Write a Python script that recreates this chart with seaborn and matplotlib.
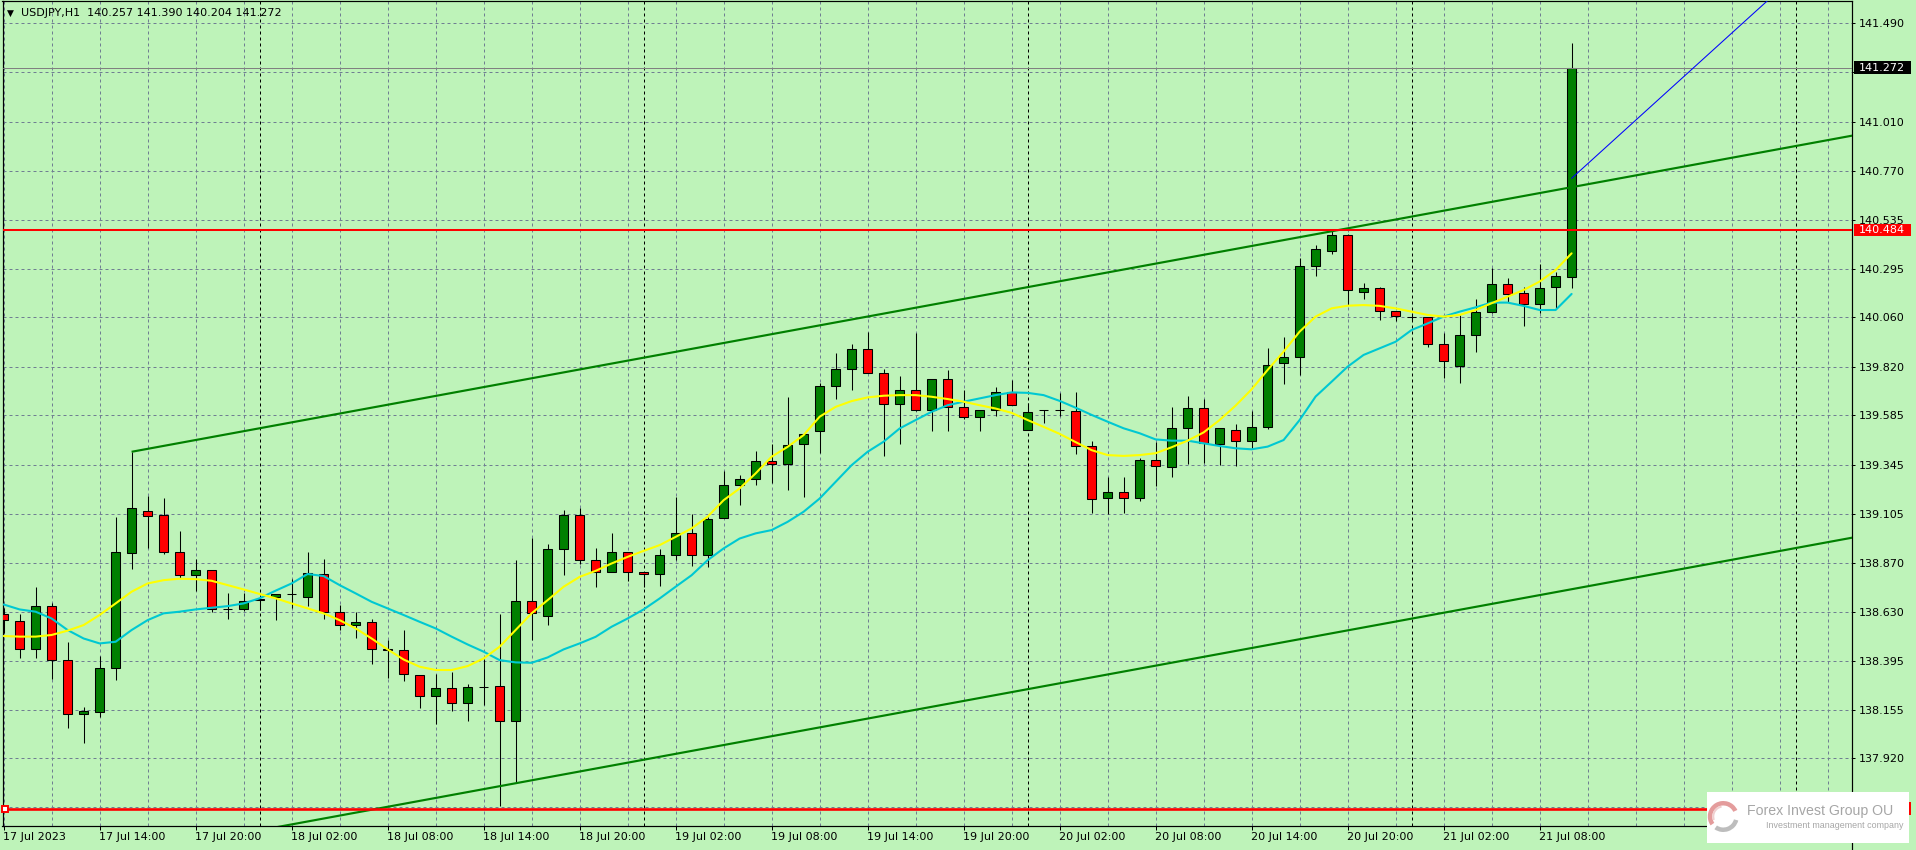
import numpy as np
import pandas as pd
import matplotlib
matplotlib.use("Agg")
import matplotlib.pyplot as plt
import matplotlib.transforms as mtransforms
from matplotlib.patches import Rectangle, Wedge
from matplotlib.lines import Line2D
from matplotlib import font_manager
import seaborn as sns

# ---------------------------------------------------------------- data
symbol = "USDJPY,H1"
header_values = ["140.257", "141.390", "140.204", "141.272"]

opens = [138.619, 138.585, 138.452, 138.658, 138.396, 138.137, 138.147, 138.357, 138.915, 139.120,
         139.099, 138.920, 138.808, 138.832, 138.643, 138.643, 138.687, 138.701, 138.717, 138.701,
         138.816, 138.629, 138.566, 138.580, 138.452, 138.444, 138.323, 138.221, 138.260, 138.187,
         138.268, 138.269, 138.100, 138.682, 138.609, 138.934, 139.099, 138.885, 138.827, 138.924,
         138.827, 138.816, 138.905, 139.016, 138.905, 139.089, 139.245, 139.274, 139.364, 139.351,
         139.444, 139.507, 139.725, 139.812, 139.909, 139.788, 139.638, 139.710, 139.609, 139.759,
         139.623, 139.575, 139.613, 139.696, 139.516, 139.609, 139.609, 139.604, 139.434, 139.182,
         139.211, 139.182, 139.367, 139.333, 139.522, 139.619, 139.444, 139.512, 139.459, 139.527,
         139.837, 139.866, 140.308, 140.381, 140.459, 140.182, 140.201, 140.090, 140.062, 140.061,
         139.930, 139.823, 139.973, 140.085, 140.221, 140.177, 140.124, 140.206, 140.257]
highs = [138.648, 138.619, 138.752, 138.676, 138.483, 138.169, 138.415, 139.091, 139.408, 139.193,
         139.183, 139.023, 138.887, 138.835, 138.725, 138.725, 138.705, 138.716, 138.789, 138.920,
         138.887, 138.663, 138.630, 138.595, 138.494, 138.541, 138.323, 138.328, 138.337, 138.281,
         138.404, 138.620, 138.881, 138.991, 138.959, 139.125, 139.133, 138.940, 139.012, 138.924,
         138.827, 138.934, 139.188, 139.105, 139.090, 139.317, 139.295, 139.414, 139.445, 139.673,
         139.492, 139.740, 139.887, 139.930, 139.987, 139.808, 139.778, 139.984, 139.759, 139.803,
         139.710, 139.613, 139.720, 139.754, 139.647, 139.612, 139.691, 139.696, 139.458, 139.284,
         139.284, 139.378, 139.456, 139.627, 139.677, 139.666, 139.522, 139.541, 139.608, 139.910,
         139.964, 140.347, 140.410, 140.478, 140.465, 140.226, 140.206, 140.092, 140.075, 140.063,
         139.983, 140.070, 140.148, 140.298, 140.250, 140.206, 140.318, 140.279, 141.390]
lows = [138.527, 138.409, 138.409, 138.307, 138.069, 137.996, 138.121, 138.302, 138.840, 138.939,
        138.913, 138.795, 138.730, 138.632, 138.598, 138.633, 138.640, 138.591, 138.648, 138.659,
        138.596, 138.541, 138.506, 138.379, 138.312, 138.294, 138.166, 138.085, 138.151, 138.103,
        138.177, 137.690, 137.807, 138.494, 138.569, 138.809, 138.864, 138.753, 138.827, 138.780,
        138.753, 138.758, 138.882, 138.855, 138.847, 139.089, 139.151, 139.245, 139.256, 139.224,
        139.190, 139.403, 139.665, 139.706, 139.788, 139.389, 139.447, 139.605, 139.511, 139.511,
        139.565, 139.511, 139.584, 139.633, 139.516, 139.550, 139.584, 139.398, 139.109, 139.104,
        139.112, 139.171, 139.244, 139.287, 139.347, 139.355, 139.346, 139.337, 139.420, 139.517,
        139.735, 139.779, 140.260, 140.366, 140.119, 140.148, 140.046, 140.041, 140.046, 139.918,
        139.765, 139.743, 139.891, 140.080, 140.133, 140.017, 140.080, 140.104, 140.204]
closes = [138.590, 138.452, 138.658, 138.396, 138.137, 138.148, 138.357, 138.920, 139.133, 139.098,
          138.920, 138.808, 138.832, 138.643, 138.643, 138.682, 138.696, 138.716, 138.717, 138.818,
          138.629, 138.566, 138.580, 138.452, 138.444, 138.328, 138.221, 138.260, 138.187, 138.265,
          138.268, 138.100, 138.682, 138.624, 138.934, 139.099, 138.885, 138.827, 138.924, 138.827,
          138.816, 138.905, 139.016, 138.905, 139.084, 139.245, 139.274, 139.364, 139.351, 139.439,
          139.492, 139.725, 139.812, 139.909, 139.788, 139.638, 139.710, 139.609, 139.759, 139.623,
          139.575, 139.613, 139.696, 139.633, 139.599, 139.609, 139.609, 139.434, 139.181, 139.211,
          139.182, 139.367, 139.341, 139.522, 139.619, 139.449, 139.522, 139.459, 139.527, 139.828,
          139.866, 140.308, 140.391, 140.459, 140.192, 140.201, 140.090, 140.065, 140.062, 139.930,
          139.847, 139.973, 140.085, 140.221, 140.172, 140.124, 140.201, 140.260, 141.272]

ma_yellow = [138.514, 138.511, 138.511, 138.519, 138.540, 138.567, 138.616, 138.672, 138.729, 138.769,
             138.785, 138.792, 138.790, 138.782, 138.761, 138.740, 138.718, 138.697, 138.672, 138.648,
             138.624, 138.591, 138.551, 138.502, 138.449, 138.400, 138.365, 138.349, 138.349, 138.368,
             138.405, 138.462, 138.543, 138.624, 138.688, 138.753, 138.801, 138.830, 138.866, 138.898,
             138.927, 138.955, 138.995, 139.036, 139.093, 139.173, 139.230, 139.303, 139.384, 139.432,
             139.489, 139.578, 139.626, 139.654, 139.672, 139.680, 139.683, 139.683, 139.675, 139.664,
             139.651, 139.634, 139.618, 139.597, 139.562, 139.529, 139.495, 139.455, 139.416, 139.392,
             139.388, 139.392, 139.401, 139.430, 139.462, 139.502, 139.562, 139.632, 139.711, 139.805,
             139.894, 139.991, 140.064, 140.104, 140.117, 140.120, 140.116, 140.104, 140.088, 140.072,
             140.064, 140.072, 140.096, 140.129, 140.161, 140.193, 140.234, 140.290, 140.371]
ma_cyan = [138.667, 138.643, 138.632, 138.599, 138.543, 138.502, 138.478, 138.486, 138.543, 138.591,
           138.624, 138.632, 138.643, 138.651, 138.659, 138.672, 138.697, 138.734, 138.769, 138.815,
           138.805, 138.761, 138.721, 138.680, 138.648, 138.616, 138.583, 138.551, 138.511, 138.473,
           138.438, 138.397, 138.386, 138.384, 138.410, 138.449, 138.478, 138.510, 138.559, 138.599,
           138.643, 138.696, 138.753, 138.809, 138.882, 138.939, 138.987, 139.012, 139.028, 139.068,
           139.117, 139.181, 139.262, 139.343, 139.408, 139.457, 139.521, 139.562, 139.602, 139.634,
           139.651, 139.667, 139.683, 139.696, 139.694, 139.683, 139.655, 139.622, 139.587, 139.554,
           139.522, 139.498, 139.468, 139.462, 139.462, 139.449, 139.436, 139.425, 139.420, 139.433,
           139.465, 139.562, 139.676, 139.748, 139.821, 139.878, 139.910, 139.942, 139.999, 140.031,
           140.064, 140.088, 140.109, 140.132, 140.132, 140.116, 140.096, 140.096, 140.174]

price_ticks = [141.490, 141.250, 141.010, 140.770, 140.535, 140.295, 140.060, 139.820,
               139.585, 139.345, 139.105, 138.870, 138.630, 138.395, 138.155, 137.920]
hidden_tick_labels = [141.250]          # covered by the bid-price box in the reference
extra_grid_prices = [137.685]
time_labels = ["17 Jul 2023", "17 Jul 14:00", "17 Jul 20:00", "18 Jul 02:00", "18 Jul 08:00",
               "18 Jul 14:00", "18 Jul 20:00", "19 Jul 02:00", "19 Jul 08:00", "19 Jul 14:00",
               "19 Jul 20:00", "20 Jul 02:00", "20 Jul 08:00", "20 Jul 14:00", "20 Jul 20:00",
               "21 Jul 02:00", "21 Jul 08:00"]
time_label_bars = [1, 7, 13, 19, 25, 31, 37, 43, 49, 55, 61, 67, 73, 79, 85, 91, 97]
day_separator_bars = [17, 41, 65, 89, 113]
grid_bar_step = 3

channel_anchor_bars = [9, 84]
channel_anchor_prices = [139.408, 140.478]
channel_offset = 1.951
ray_anchor_bars = [99, 111]
ray_anchor_prices = [140.735, 141.580]
bid_price = 141.272
resistance_price = 140.484
support_price = 137.676
support_anchor_bar = 1.1

logo_title = "Forex Invest Group OU"
logo_subtitle = "Investment management company"

# ---------------------------------------------------------------- style
W, H, DPI = 1916, 850, 100
BG = "#BEF3B9"
GRID = "#707E92"
BULL = "#008000"
BEAR = "#FF0000"
YELLOW = "#FFFF00"
CYAN = "#00C8D2"
PX = 0.72  # one pixel in points

sns.set_style("ticks", {"axes.facecolor": BG, "figure.facecolor": BG,
                        "axes.edgecolor": "black", "xtick.color": "black",
                        "ytick.color": "black", "text.color": "black"})
plt.rcParams["font.family"] = ["DejaVu Sans"]

names = {f.name for f in font_manager.fontManager.ttflist}
if "Liberation Sans Narrow" in names:
    logo_font, logo_size = "Liberation Sans Narrow", 12.6
else:
    logo_font, logo_size = "Liberation Sans", 10.2

fig = plt.figure(figsize=(W / DPI, H / DPI), dpi=DPI, facecolor=BG)
ax_left, ax_right, ax_top, ax_bottom = 2.5, 1852.3, 0.5, 826.0
ax = fig.add_axes([ax_left / W, (H - ax_bottom) / H,
                   (ax_right - ax_left) / W, (ax_bottom - ax_top) / H])
ax.set_facecolor(BG)

n_bars = np.arange(1, len(opens) + 1)
bar_px = 16.0
x0 = 1 - (3.6 - ax_left) / bar_px
x1 = 1 + (ax_right - 3.6) / bar_px
ymin, ymax = 137.592, 141.598
ax.set_xlim(x0, x1)
ax.set_ylim(ymin, ymax)
ppx = (ymax - ymin) / (ax_bottom - ax_top)

# grid
for p in price_ticks + extra_grid_prices:
    ax.axhline(p, color=GRID, lw=PX, ls=(0, (3, 3)), zorder=1)
for b in range(1, int(x1) + 1, grid_bar_step):
    ax.axvline(b, color=GRID, lw=PX, ls=(0, (3, 3)), zorder=1)
for b in day_separator_bars:
    ax.axvline(b, color="black", lw=PX, ls=(0, (3, 3)), zorder=1.2)

# candles
o = np.array(opens); h = np.array(highs); l = np.array(lows); c = np.array(closes)
up = c >= o
ax.vlines(n_bars, l, h, color="black", lw=PX * 1.05, zorder=3)
ax.bar(n_bars, np.abs(c - o), bottom=np.minimum(o, c), width=0.58,
       color=np.where(up, BULL, BEAR), edgecolor="black", linewidth=PX * 1.05, zorder=4)

# moving averages
df_ma = pd.DataFrame({"bar": n_bars, "yellow": ma_yellow, "cyan": ma_cyan})
sns.lineplot(data=df_ma, x="bar", y="cyan", ax=ax, color=CYAN, linewidth=1.5, zorder=5)
sns.lineplot(data=df_ma, x="bar", y="yellow", ax=ax, color=YELLOW, linewidth=1.5, zorder=5.1)
ax.set_xlabel("")
ax.set_ylabel("")

# channel
slope = (channel_anchor_prices[1] - channel_anchor_prices[0]) / (channel_anchor_bars[1] - channel_anchor_bars[0])
xu = np.array([channel_anchor_bars[0], x1 + 5])
ax.plot(xu, channel_anchor_prices[0] + slope * (xu - channel_anchor_bars[0]),
        color=BULL, lw=1.55, zorder=6, solid_capstyle="butt")
xl = np.array([x0 - 5, x1 + 5])
ax.plot(xl, channel_anchor_prices[0] - channel_offset + slope * (xl - channel_anchor_bars[0]),
        color=BULL, lw=1.55, zorder=6, solid_capstyle="butt")

# blue ray
rslope = (ray_anchor_prices[1] - ray_anchor_prices[0]) / (ray_anchor_bars[1] - ray_anchor_bars[0])
xr = np.array([ray_anchor_bars[0], x1 + 5])
ax.plot(xr, ray_anchor_prices[0] + rslope * (xr - ray_anchor_bars[0]), color="#0000FF", lw=0.75, zorder=6)

# horizontal levels
ax.axhline(bid_price, color="#808080", lw=PX, zorder=5.5)
ax.axhline(resistance_price, color="#FF0000", lw=1.45, zorder=6)
ax.axhline(support_price, color="#FF0000", lw=1.9, zorder=6)
ax.plot([support_anchor_bar], [support_price], marker="s", ms=4.2, mfc="white", mec="#FF0000",
        mew=1.4, zorder=7, clip_on=False)

# spines
for s in ax.spines.values():
    s.set_color("black")
    s.set_linewidth(PX * 1.2)
ax.add_line(Line2D([1, 1], [0, -(ax_bottom) / (ax_bottom - ax_top)], transform=ax.transAxes,
                   color="black", lw=PX * 1.2, clip_on=False, zorder=2))

# ticks
ax.yaxis.tick_right()
ax.set_yticks(price_ticks)
ax.set_yticklabels(["" if v in hidden_tick_labels else f"{v:.3f}" for v in price_ticks])
ax.tick_params(axis="y", which="both", right=True, left=False, labelright=True, labelleft=False,
               length=2.4, width=PX, pad=2.6, labelsize=8, direction="out")
ax.set_xticks(time_label_bars)
ax.set_xticklabels(time_labels)
ax.tick_params(axis="x", length=3.0, width=PX, pad=1.2, labelsize=8, direction="out")
offset = mtransforms.ScaledTranslation(-0.6 / DPI, 0, fig.dpi_scale_trans)
for t in ax.get_xticklabels():
    t.set_ha("left")
    t.set_transform(t.get_transform() + offset)

# price labels on the right scale
btrans = mtransforms.blended_transform_factory(fig.transFigure, ax.transData)
box_h = 12.5 * ppx
for price, label, face in [(bid_price, header_values[3], "black"),
                           (resistance_price, f"{resistance_price:.3f}", "#FF0000"),
                           (support_price, None, "#FF0000")]:
    ax.add_patch(Rectangle((1854.3 / W, price - box_h / 2), (1910.5 - 1854.3) / W, box_h,
                           transform=btrans, facecolor=face, edgecolor="none",
                           clip_on=False, zorder=10))
    if label:
        ax.text(1859.3 / W, price, label, transform=btrans, color="white", fontsize=8,
                ha="left", va="center", clip_on=False, zorder=11)

# header
fig.text(7 / W, 1 - 13.0 / H, "\u25BC", fontsize=6.5, ha="left", va="center", color="black")
fig.text(21 / W, 1 - 13.0 / H, f"{symbol}  " + " ".join(header_values), fontsize=8,
         ha="left", va="center", color="black")

# logo box
lx0, ly_top, lw_, lh_ = 1707.3, 792.0, 202.0, 50.7
lax = fig.add_axes([lx0 / W, (H - ly_top - lh_) / H, lw_ / W, lh_ / H])
lax.set_facecolor("white")
lax.set_xlim(0, lw_)
lax.set_ylim(0, lh_)
lax.set_xticks([]); lax.set_yticks([])
for s in lax.spines.values():
    s.set_visible(False)
cx, cy = 16.0, lh_ - 24.5
lax.add_patch(Wedge((cx, cy), 15.5, 25, 215, width=4.5, facecolor="#E49C9C", edgecolor="none"))
lax.add_patch(Wedge((cx, cy), 15.5, 235, 345, width=4.5, facecolor="#BDBDBD", edgecolor="none"))
lax.add_patch(Wedge((cx, cy), 11.0, 100, 200, width=2.0, facecolor="#F0CFCF", edgecolor="none"))
lax.text(40.0, lh_ - 19.3, logo_title, family=logo_font, fontsize=logo_size, color="#A6A6A6",
         ha="left", va="center")
lax.text(58.7, lh_ - 33.0, logo_subtitle, family="Liberation Sans", fontsize=6.4, color="#A6A6A6",
         ha="left", va="center")

fig.savefig("out.png", dpi=DPI, facecolor=BG)
